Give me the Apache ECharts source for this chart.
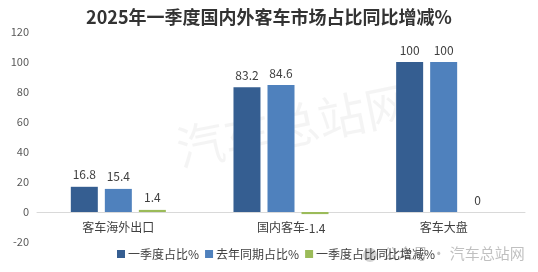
<!DOCTYPE html>
<html><head><meta charset="utf-8">
<script src="https://cdn.jsdelivr.net/npm/echarts@6/dist/echarts.min.js"></script>
<style>html,body{margin:0;padding:0;background:#fff}#c{width:538px;height:272px}</style>
</head><body><div id="c"></div>
<script>
const title = '2025年一季度国内外客车市场占比同比增减%';
const categories = ['客车海外出口', '国内客车', '客车大盘'];
const seriesNames = ['一季度占比%', '去年同期占比%', '一季度占比同比增减%'];
const q1Share = [16.8, 83.2, 100];
const lastYearShare = [15.4, 84.6, 100];
const shareChange = [1.4, -1.4, 0];
const yTicks = {min: -20, max: 120, interval: 20};
const colors = ['#355e91', '#4f81bd', '#9bbb59'];
const font = '"Noto Sans CJK SC", "Microsoft YaHei", sans-serif';

function mk(vals) {
  return vals.map(v => v < 0 ? {value: v, label: {position: 'bottom', distance: 8}} : v);
}
const chart = echarts.init(document.getElementById('c'), null, {renderer: 'canvas'});
const lbl = {show: true, position: 'top', color: '#404040', fontSize: 12, fontFamily: font, distance: 6};
chart.setOption({
  animation: false,
  color: colors,
  title: {text: title, left: 'center', top: 3, textStyle: {fontSize: 18, fontWeight: 'bold', color: '#333333', fontFamily: font}},
  graphic: [
    {type: 'text', left: 172, top: 78, rotation: 0.2, z: 0, style: {text: '汽车总站网', fontSize: 48, fill: 'rgba(0,0,0,0.045)', fontFamily: font}},
    {type: 'circle', shape: {cx: 370, cy: 255, r: 7}, style: {fill: 'rgba(160,160,160,0.45)'}, z: 0},
    {type: 'text', left: 383, top: 246, z: 0, style: {text: '公众号 · 汽车总站网', fontSize: 15, fill: 'rgba(150,150,150,0.6)', fontFamily: font}}
  ],
  legend: {bottom: 7, left: 112, itemWidth: 8, itemHeight: 8, itemGap: 6, icon: 'rect',
    textStyle: {fontSize: 12, color: '#404040', fontFamily: font, padding: [0,0,0,-2]}},
  grid: {left: 37, right: 13, top: 32, bottom: 30, containLabel: false},
  xAxis: {type: 'category', data: categories,
    axisLine: {onZero: true, lineStyle: {color: '#d9d9d9'}}, axisTick: {show: false},
    axisLabel: {color: '#404040', fontSize: 12, fontFamily: font, margin: -21}},
  yAxis: {type: 'value', min: yTicks.min, max: yTicks.max, interval: yTicks.interval,
    splitLine: {show: false}, axisLine: {show: false}, axisTick: {show: false},
    axisLabel: {color: '#595959', fontSize: 11, fontFamily: font, margin: 8}},
  series: [
    {name: seriesNames[0], type: 'bar', data: mk(q1Share), barWidth: 27, barGap: '26%', label: lbl},
    {name: seriesNames[1], type: 'bar', data: mk(lastYearShare), barWidth: 27, barGap: '26%', label: lbl},
    {name: seriesNames[2], type: 'bar', data: mk(shareChange), barWidth: 27, barGap: '26%', label: lbl, z: 3}
  ]
});
</script></body></html>
